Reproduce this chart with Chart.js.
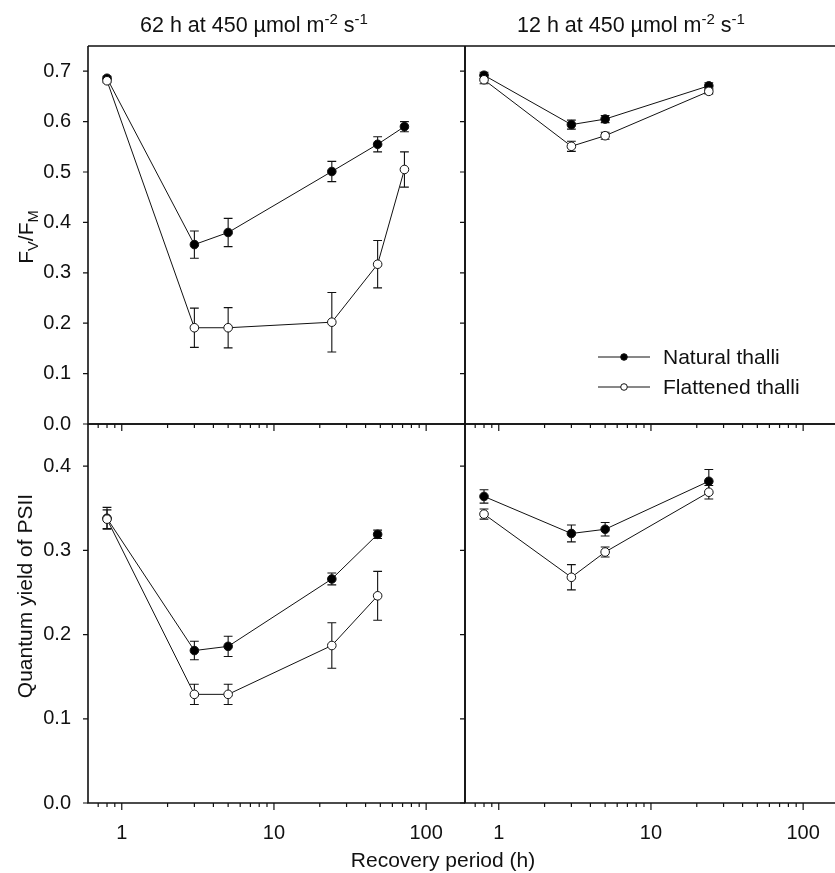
<!DOCTYPE html>
<html>
<head>
<meta charset="utf-8">
<script src="https://cdn.jsdelivr.net/npm/chart.js@4.4.1/dist/chart.umd.min.js"></script>
<style>
  html, body { margin:0; padding:0; background:#fff; overflow:hidden; }
  #wrap { position:relative; width:835px; height:873px; overflow:hidden; font-family:"Liberation Sans", Arial, sans-serif; color:#111; }
  #wrap canvas { position:absolute; left:0; top:0; }
  .txt { position:absolute; white-space:nowrap; font-size:21px; line-height:1; }
  .rot { transform:translate(-50%,-50%) rotate(-90deg); }
  .txt sup { font-size:0.7em; vertical-align:0.55em; line-height:0; }
  .txt sub { font-size:0.7em; vertical-align:-0.35em; line-height:0; }
</style>
</head>
<body>
<div id="wrap">
  <canvas id="cTL" width="835" height="873"></canvas>
  <canvas id="cTR" width="900" height="873"></canvas>
  <canvas id="cBL" width="835" height="873"></canvas>
  <canvas id="cBR" width="900" height="873"></canvas>
  <div class="txt" style="left:140px;top:15px;font-size:21.5px;">62 h at 450 µmol m<sup>-2</sup> s<sup>-1</sup></div>
  <div class="txt" style="left:517px;top:15px;font-size:21.5px;">12 h at 450 µmol m<sup>-2</sup> s<sup>-1</sup></div>
  <div class="txt rot" style="left:25px;top:237px;">F<sub>V</sub>/F<sub>M</sub></div>
  <div class="txt rot" style="left:24px;top:596px;">Quantum yield of PSII</div>
  <div class="txt" style="left:443px;top:849px;transform:translateX(-50%);">Recovery period (h)</div>
</div>
<script>
// recovery times (h)
const xLong = [0.8, 3, 5, 24, 48, 72];
const xShort = [0.8, 3, 5, 24];
const xLongQ = [0.8, 3, 5, 24, 48];

// Fv/Fm, 62 h treatment
const natFvLong = [0.686, 0.356, 0.380, 0.501, 0.555, 0.590];
const natFvLongErr = [0.004, 0.027, 0.028, 0.020, 0.015, 0.010];
const flatFvLong = [0.681, 0.191, 0.191, 0.202, 0.317, 0.505];
const flatFvLongErr = [0.004, 0.039, 0.040, 0.059, 0.047, 0.035];

// Fv/Fm, 12 h treatment
const natFvShort = [0.692, 0.594, 0.605, 0.671];
const natFvShortErr = [0.006, 0.009, 0.007, 0.006];
const flatFvShort = [0.683, 0.551, 0.572, 0.660];
const flatFvShortErr = [0.008, 0.010, 0.007, 0.005];

// quantum yield of PSII, 62 h treatment
const natQLong = [0.338, 0.181, 0.186, 0.266, 0.319];
const natQLongErr = [0.013, 0.011, 0.012, 0.007, 0.005];
const flatQLong = [0.337, 0.129, 0.129, 0.187, 0.246];
const flatQLongErr = [0.011, 0.012, 0.012, 0.027, 0.029];

// quantum yield of PSII, 12 h treatment
const natQShort = [0.364, 0.320, 0.325, 0.382];
const natQShortErr = [0.008, 0.010, 0.008, 0.014];
const flatQShort = [0.343, 0.268, 0.298, 0.369];
const flatQShortErr = [0.006, 0.015, 0.006, 0.008];

const xMajor = [1, 10, 100];
const xMinor = [0.7, 0.8, 0.9, 2, 3, 4, 5, 6, 7, 8, 9, 20, 30, 40, 50, 60, 70, 80, 90];
const yTicksFv = [0, 0.1, 0.2, 0.3, 0.4, 0.5, 0.6, 0.7];
const yTicksQ = [0, 0.1, 0.2, 0.3, 0.4];
const legendLabels = ['Natural thalli', 'Flattened thalli'];

const FONT = '"Liberation Sans", Arial, sans-serif';
const INK = '#111';
const H = 873;
const YAXW = 60, XAXH = 40;

const frameAndTicks = {
  id: 'frameAndTicks',
  afterDraw(chart){
    const {ctx, chartArea:a, scales:{x, y}} = chart;
    const o = chart.options.plugins.frameAndTicks;
    ctx.save();
    ctx.strokeStyle = INK;
    ctx.lineWidth = 1.6;
    ctx.beginPath();
    ctx.moveTo(a.left, a.top); ctx.lineTo(a.left, a.bottom); ctx.lineTo(a.right, a.bottom);
    ctx.moveTo(a.left, a.top); ctx.lineTo(a.right, a.top);
    ctx.moveTo(a.right, a.top); ctx.lineTo(a.right, a.bottom);
    ctx.stroke();
    ctx.lineWidth = 1.2;
    ctx.beginPath();
    xMinor.forEach(v => {
      const px = x.getPixelForValue(v);
      ctx.moveTo(px, a.bottom); ctx.lineTo(px, a.bottom + 4);
    });
    xMajor.forEach(v => {
      const px = x.getPixelForValue(v);
      ctx.moveTo(px, a.bottom); ctx.lineTo(px, a.bottom + 7);
    });
    o.yTicks.forEach(v => {
      const py = y.getPixelForValue(v);
      ctx.moveTo(a.left, py); ctx.lineTo(a.left - 5, py);
    });
    ctx.stroke();
    ctx.restore();
  }
};

const errorBars = {
  id: 'errorBars',
  beforeDatasetsDraw(chart){
    const {ctx, scales:{y}} = chart;
    ctx.save();
    ctx.strokeStyle = INK;
    ctx.lineWidth = 1.1;
    chart.data.datasets.forEach((ds, di) => {
      const meta = chart.getDatasetMeta(di);
      meta.data.forEach((pt, i) => {
        const v = ds.data[i].y, e = ds.errors[i];
        const t = y.getPixelForValue(v + e), b = y.getPixelForValue(v - e);
        ctx.beginPath();
        ctx.moveTo(pt.x, t); ctx.lineTo(pt.x, b);
        ctx.moveTo(pt.x - 4.4, t); ctx.lineTo(pt.x + 4.4, t);
        ctx.moveTo(pt.x - 4.4, b); ctx.lineTo(pt.x + 4.4, b);
        ctx.stroke();
      });
    });
    ctx.restore();
  }
};

const legendBox = {
  id: 'legendBox',
  afterDraw(chart){
    const o = chart.options.plugins.legendBox;
    if (!o.show) return;
    const {ctx} = chart;
    ctx.save();
    ctx.font = `21px ${FONT}`;
    ctx.textBaseline = 'middle';
    ctx.strokeStyle = INK;
    ctx.lineWidth = 1;
    const fills = ['#000', '#fff'];
    legendLabels.forEach((lab, i) => {
      const yy = o.y + i * 30;
      ctx.beginPath();
      ctx.moveTo(o.x, yy); ctx.lineTo(o.x + 52, yy);
      ctx.stroke();
      ctx.beginPath();
      ctx.arc(o.x + 26, yy, 3.3, 0, Math.PI * 2);
      ctx.fillStyle = fills[i];
      ctx.fill();
      ctx.stroke();
      ctx.fillStyle = INK;
      ctx.fillText(lab, o.x + 65, yy + 1);
    });
    ctx.restore();
  }
};

function series(xs, ys, errs, fill, order){
  return {
    data: xs.map((x, i) => ({x, y: ys[i]})),
    errors: errs,
    borderColor: INK,
    borderWidth: 1,
    backgroundColor: fill,
    pointBackgroundColor: fill,
    pointBorderColor: INK,
    pointBorderWidth: 1,
    pointRadius: 4.3,
    tension: 0,
    order
  };
}

function mkPanel(id, box, yMax, yTicks, showX, showY, datasets, legend){
  const cw = document.getElementById(id).width;
  new Chart(document.getElementById(id), {
    type: 'line',
    data: {datasets},
    plugins: [errorBars, frameAndTicks, legendBox],
    options: {
      responsive: false,
      animation: false,
      layout: {padding: {left: box.l - YAXW, top: box.t, right: cw - box.r, bottom: H - box.b - XAXH}},
      plugins: {
        legend: {display: false},
        tooltip: {enabled: false},
        frameAndTicks: {yTicks},
        legendBox: legend || {show: false}
      },
      scales: {
        x: {
          type: 'logarithmic', min: 0.6, max: 180,
          afterBuildTicks: s => { s.ticks = xMajor.map(v => ({value: v})); },
          afterFit: s => { s.height = XAXH; },
          ticks: {
            display: showX, autoSkip: false, maxRotation: 0, padding: 10,
            color: INK, font: {family: FONT, size: 20},
            callback: v => String(v)
          },
          grid: {display: false},
          border: {display: false}
        },
        y: {
          min: 0, max: yMax,
          afterBuildTicks: s => { s.ticks = yTicks.map(v => ({value: v})); },
          afterFit: s => { s.width = YAXW; },
          ticks: {
            display: showY, padding: 9,
            color: INK, font: {family: FONT, size: 20},
            callback: v => Number(v).toFixed(1)
          },
          grid: {display: false},
          border: {display: false}
        }
      }
    }
  });
}

const L = 88, M = 465, RR = 842, T = 46, MID = 424, B = 803;

mkPanel('cTL', {l: L, r: M, t: T, b: MID}, 0.75, yTicksFv, false, true, [
  series(xLong, natFvLong, natFvLongErr, '#000', 1),
  series(xLong, flatFvLong, flatFvLongErr, '#fff', 0)
]);
mkPanel('cTR', {l: M, r: RR, t: T, b: MID}, 0.75, yTicksFv, false, false, [
  series(xShort, natFvShort, natFvShortErr, '#000', 1),
  series(xShort, flatFvShort, flatFvShortErr, '#fff', 0)
], {show: true, x: 598, y: 357});
mkPanel('cBL', {l: L, r: M, t: MID, b: B}, 0.45, yTicksQ, true, true, [
  series(xLongQ, natQLong, natQLongErr, '#000', 1),
  series(xLongQ, flatQLong, flatQLongErr, '#fff', 0)
]);
mkPanel('cBR', {l: M, r: RR, t: MID, b: B}, 0.45, yTicksQ, true, false, [
  series(xShort, natQShort, natQShortErr, '#000', 1),
  series(xShort, flatQShort, flatQShortErr, '#fff', 0)
]);
</script>
</body>
</html>
